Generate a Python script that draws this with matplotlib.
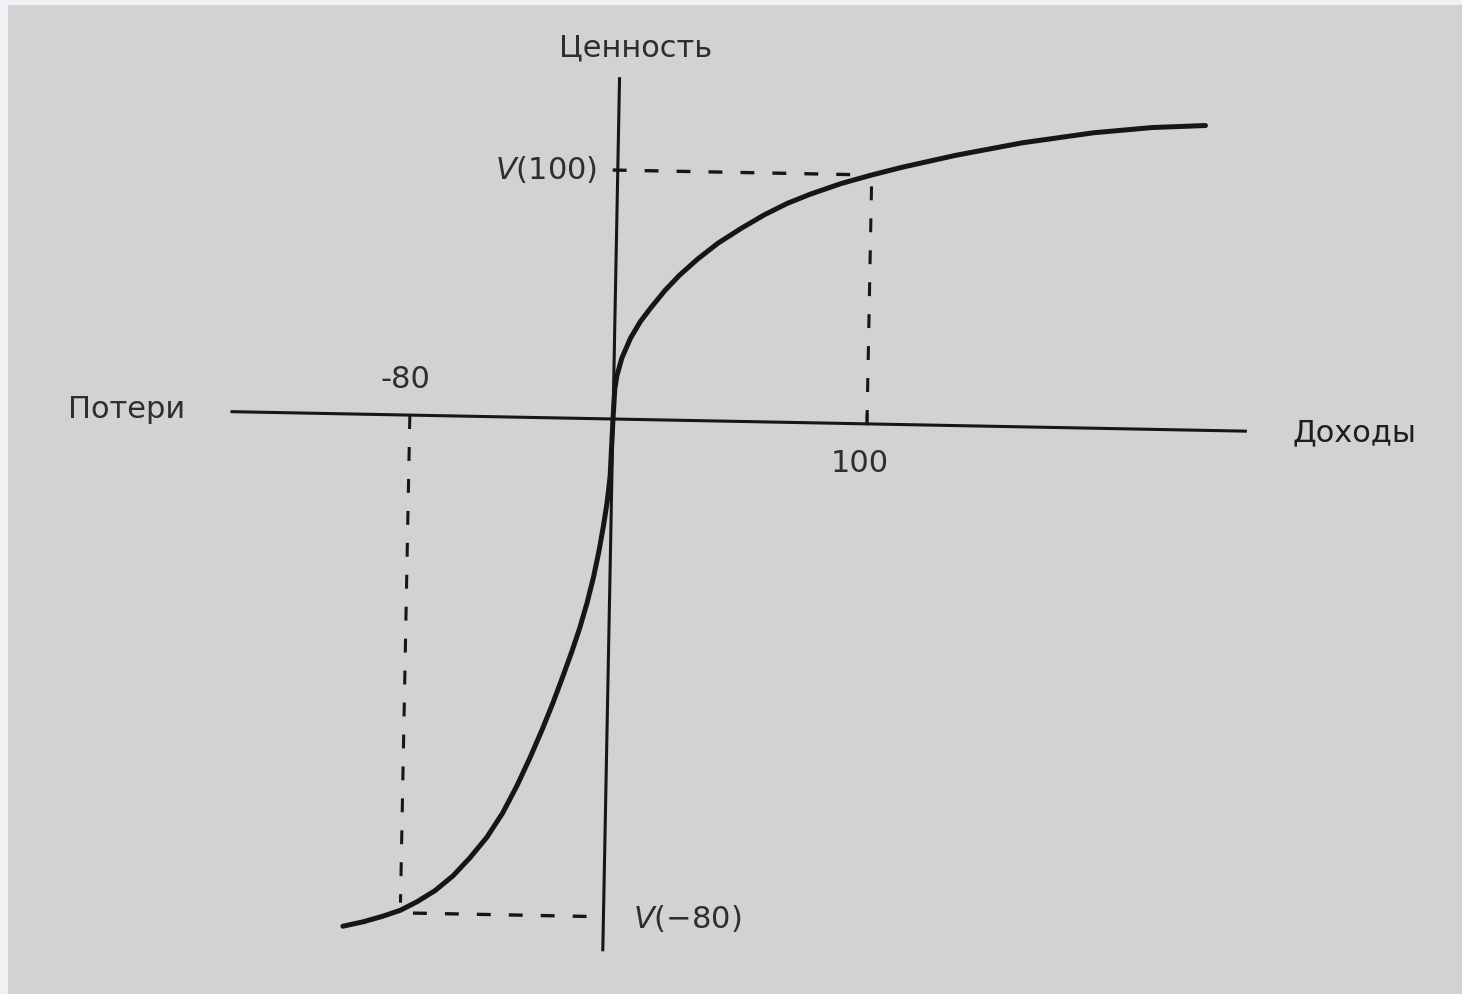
import numpy as np
import matplotlib
matplotlib.use("Agg")
import matplotlib.pyplot as plt
from matplotlib.transforms import Affine2D

# Функция ценности (в условных единицах)
gain_x = [0, 0.5, 1.2, 3, 6.3, 10, 14, 19.5, 25, 32, 40, 49, 58, 67, 76, 88,
          100, 112, 133, 159, 187, 210, 231]
gain_y = [0, 12, 17, 24, 32, 38.5, 44, 51, 57, 63.5, 70, 76, 81.5, 86.2, 90.0,
          94.4, 98, 101.3, 106.4, 111.8, 116.3, 118.8, 120]

loss_x = [0, -0.7, -1.7, -3, -4.6, -6.5, -8.8, -11.5, -14.5, -18, -21.5, -25.5,
          -30, -35, -40.5, -46.5, -53, -59.5, -66.5, -73.5, -80, -87, -94.5, -102.5]
loss_y = [0, -22.5, -33, -42.5, -52.5, -62.5, -72.5, -82.5, -92, -102.3, -112.2,
          -122.7, -133.7, -145, -156, -165.6, -173.8, -181, -187, -191.5, -195,
          -197.5, -199.8, -201.7]

x_axis = [-150, 249]
y_axis = [-209, 134]

x_marks = [-80, 100]
v_marks = [-195, 98]
x_tick_labels = ["-80", "100"]
v_tick_labels = [r"$V$(−80)", r"$V$(100)"]

axis_labels = {"y": "Ценность", "loss": "Потери", "gain": "Доходы"}

#%% Рисунок
plt.rcParams["font.family"] = ["DejaVu Sans"]
plt.rcParams["lines.scale_dashes"] = False

W, H, dpi = 1462, 995, 100
fig = plt.figure(figsize=(W / dpi, H / dpi), dpi=dpi, facecolor="#f1f0f4")
ax = fig.add_axes([8 / W, 0, (W - 8) / W, (H - 6) / H])
ax.set_facecolor("#d2d2d2")
for sp in ax.spines.values():
    sp.set_visible(False)
ax.set_xticks([])
ax.set_yticks([])

scale = 2.54                   # px на единицу
ox, oy = 613, H - 420          # начало координат в пикселях
ax.set_xlim((8 - ox) / scale, (W - ox) / scale)
ax.set_ylim((0 - oy) / scale, (H - 6 - oy) / scale)

# скан слегка повернут
tr = ax.transData + Affine2D().rotate_deg_around(ox, oy, -1.1)

ink = "#161616"
txt = "#2e2e2e"

# оси
ax.plot(x_axis, [0, 0], color=ink, lw=2.2, transform=tr)
ax.plot([0, 0], y_axis, color=ink, lw=2.2, transform=tr)

# кривая
ax.plot(gain_x, gain_y, color=ink, lw=3.6, solid_capstyle="round",
        solid_joinstyle="round", transform=tr)
ax.plot(loss_x, loss_y, color=ink, lw=3.6, solid_capstyle="round",
        solid_joinstyle="round", transform=tr)

# пунктир
for xm, vm in zip(x_marks, v_marks):
    off = 4 if vm > 0 else -3
    ax.plot([xm, xm], [0, vm - off], color=ink, lw=2.2, ls="--",
            dashes=(10, 13), transform=tr)
    hx = [-2, xm] if xm > 0 else [xm + 5, -1.5]
    hy = vm if xm > 0 else vm - 1
    ax.plot(hx, [hy, hy], color=ink, lw=2.4, ls="--", dashes=(10, 13),
            transform=tr)

# маленькая засечка у 100
ax.plot([x_marks[1], x_marks[1]], [0, 3.5], color=ink, lw=2.0, transform=tr)

fs = 22
ax.text(6, 146.6, axis_labels["y"], fontsize=fs, color=txt,
        ha="center", va="center", transform=tr)
ax.text(-191.4, 0.3, axis_labels["loss"], fontsize=fs, color=txt,
        ha="center", va="center", transform=tr)
ax.text(291.8, 0.5, axis_labels["gain"], fontsize=fs, color="#1e1e1e",
        ha="center", va="center", transform=tr)

ax.text(x_marks[0] - 2.2, 14.2, x_tick_labels[0], fontsize=fs, color=txt,
        ha="center", va="center", transform=tr)
ax.text(x_marks[1] - 2.4, -15.1, x_tick_labels[1], fontsize=fs, color=txt,
        ha="center", va="center", transform=tr)

ax.text(-8.2, v_marks[1] + 0.3, v_tick_labels[1], fontsize=fs, color=txt,
        ha="right", va="center", transform=tr)
ax.text(11.6, v_marks[0] - 0.9, v_tick_labels[0], fontsize=fs, color=txt,
        ha="left", va="center", transform=tr)

fig.savefig("out.png", dpi=dpi, facecolor=fig.get_facecolor())
